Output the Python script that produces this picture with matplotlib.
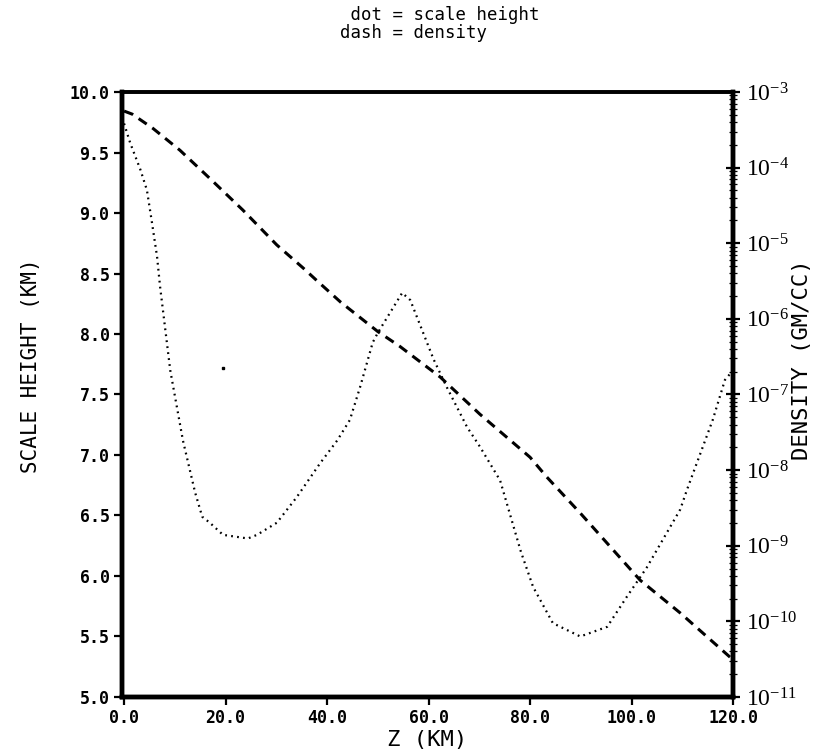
import matplotlib
matplotlib.use("Agg")
import matplotlib.pyplot as plt
import matplotlib.ticker as ticker
import numpy as np

# scale height profile (km) vs altitude
z_sh = [0, 1.2, 3.2, 4.5, 5.5, 6.5, 7.1, 9.1, 11.6, 14.0, 15.4, 16.9, 19.5,
        24.4, 26.2, 30.1, 34.0, 38.6, 42.0, 44.5, 46.5, 49.0, 50.0, 54.8,
        56.4, 61.0, 63.6, 67.6, 70.1, 74.1, 78.2, 80.6, 84.5, 89.9, 95.2,
        99.1, 103.0, 109.6, 110.9, 116.0, 118.4, 120.0]
scale_height = [9.74, 9.58, 9.36, 9.19, 8.92, 8.64, 8.39, 7.70, 7.12, 6.69,
                6.49, 6.44, 6.34, 6.31, 6.34, 6.44, 6.65, 6.93, 7.12, 7.29,
                7.56, 7.93, 8.01, 8.34, 8.28, 7.79, 7.56, 7.23, 7.07, 6.79,
                6.20, 5.91, 5.61, 5.50, 5.58, 5.83, 6.07, 6.55, 6.71, 7.29,
                7.62, 7.70]

# density (gm/cc) vs altitude
z_rho = [0, 1.6, 5.7, 11.0, 16.9, 23.4, 30.1, 35.3, 38.0, 42.7, 50.0, 54.4,
         62.3, 70.1, 80.0, 83.3, 89.9, 101.7, 109.6, 120.0]
density = [5.6e-4, 5.1e-4, 3.3e-4, 1.7e-4, 7.2e-5, 2.75e-5, 9.5e-6, 4.7e-6,
           3.2e-6, 1.66e-6, 6.8e-7, 4.3e-7, 1.7e-7, 5.5e-8, 1.48e-8, 8.1e-9,
           2.7e-9, 3.5e-10, 1.29e-10, 3.1e-11]

# lone plotter dot
stray_z = [19.5]
stray_h = [7.72]

x_ticks = [0, 20, 40, 60, 80, 100, 120]
y_ticks = [5.0, 5.5, 6.0, 6.5, 7.0, 7.5, 8.0, 8.5, 9.0, 9.5, 10.0]
rho_ticks = [1e-11, 1e-10, 1e-9, 1e-8, 1e-7, 1e-6, 1e-5, 1e-4, 1e-3]

mono = "DejaVu Sans Mono"

fig = plt.figure(figsize=(8.33, 7.53), dpi=100)
ax = fig.add_axes([0.1465, 0.0744, 0.7335, 0.8034])
ax2 = ax.twinx()

ax.plot(z_sh, scale_height, color="black", lw=1.6, linestyle=(0, (0.8, 1.9)))
ax.plot(stray_z, stray_h, "s", color="black", ms=1.8)
ax2.plot(z_rho, density, color="black", lw=2.2, linestyle=(0, (3.2, 2.2)))

ax.set_xlim(-0.4, 120)
ax.set_ylim(5.0, 10.0)
ax2.set_yscale("log")
ax2.set_ylim(1e-11, 1e-3)

ax.set_xticks(x_ticks)
ax.set_xticklabels([f"{v:.1f}" for v in x_ticks], fontfamily=mono,
                   fontweight="bold", fontsize=12)
ax.set_yticks(y_ticks)
ax.set_yticklabels([f"{v:.1f}" for v in y_ticks], fontfamily=mono,
                   fontweight="bold", fontsize=12)
ax.tick_params(axis="both", direction="out", length=6, width=1.6, pad=3)

ax2.set_yticks(rho_ticks)
ax2.set_yticklabels([r"$\mathregular{10^{%d}}$" % int(np.log10(v)) for v in rho_ticks],
                    fontfamily="Liberation Serif", fontsize=17)
ax2.yaxis.set_minor_locator(ticker.LogLocator(base=10, subs=np.arange(2, 10), numticks=50))
ax2.yaxis.set_minor_formatter(ticker.NullFormatter())
ax2.tick_params(axis="y", which="major", direction="inout", length=10, width=1.6, pad=4)
ax2.tick_params(axis="y", which="minor", direction="inout", length=6, width=0.9)

for a in (ax, ax2):
    for side in ("left", "right", "bottom"):
        a.spines[side].set_linewidth(3.2)
    a.spines["top"].set_linewidth(2.6)

ax.set_xlabel("Z (KM)", fontfamily=mono, fontsize=16, labelpad=2)
ax.set_ylabel("SCALE HEIGHT (KM)", fontfamily=mono, fontsize=15)
ax.yaxis.set_label_coords(-0.133, 0.547)
ax2.set_ylabel("DENSITY (GM/CC)", fontfamily=mono, fontsize=16)
ax2.yaxis.set_label_coords(1.097, 0.557)

fig.text(0.408, 0.992, " dot = scale height\ndash = density", fontfamily=mono,
         fontsize=12.5, ha="left", va="top", linespacing=1.0)

fig.savefig("out.png", dpi=100)
